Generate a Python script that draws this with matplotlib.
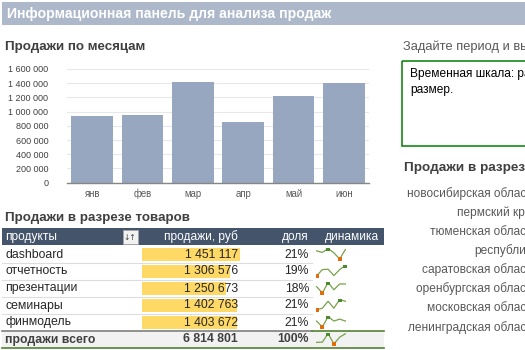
import matplotlib
matplotlib.use("Agg")
import matplotlib.pyplot as plt
from matplotlib.patches import Rectangle
from matplotlib.ticker import FuncFormatter

plt.rcParams['font.family'] = ['Liberation Sans', 'DejaVu Sans']

W, H = 525, 350

months = ["янв", "фев", "мар", "апр", "май", "июн"]
month_sales = [941000, 955000, 1419000, 857000, 1223000, 1408000]

products = ["dashboard", "отчетность", "презентации", "семинары", "финмодель"]
product_sales = [1451117, 1306576, 1250673, 1402763, 1403672]

# monthly sales per product, thousand rub (sparklines)
trend_dashboard = [258, 239, 287, 234, 158, 275]
trend_reports = [164, 232, 236, 168, 232, 275]
trend_slides = [209, 138, 254, 174, 238, 238]
trend_seminars = [173, 194, 274, 194, 294, 274]
trend_finmodel = [233, 165, 285, 233, 255, 233]
product_trends = [trend_dashboard, trend_reports, trend_slides,
                  trend_seminars, trend_finmodel]

regions = ["новосибирская область", "пермский край", "тюменская область",
           "республика", "саратовская область", "оренбургская область",
           "московская область", "ленинградская область"]

DARK = "#404040"
GREEN_BOX = "#008000"
LINE_GREEN = "#548235"


def spaced(v):
    return "{:,.0f}".format(v).replace(",", " ")


def add_ax(x0, y0, x1, y1):
    """axes placed by pixel box (y counted from the top)"""
    return fig.add_axes([x0 / W, 1 - y1 / H, (x1 - x0) / W, (y1 - y0) / H])


fig = plt.figure(figsize=(W / 100, H / 100), dpi=100)

# background layer in pixel units for the panel layout
bg = fig.add_axes([0, 0, 1, 1])
bg.set_xlim(0, W)
bg.set_ylim(H, 0)
bg.axis("off")

bg.add_patch(Rectangle((2, 2), W, 23, color="#ADB9CA", lw=0))
bg.text(7, 14, "Информационная панель для анализа продаж", color="white",
        fontsize=10.1, fontweight="bold", va="center")

bg.text(5, 47, "Продажи по месяцам", color=DARK, fontsize=9.6,
        fontweight="bold", va="center")

# monthly bar chart
ax = add_ax(67, 69, 369, 182.7)
ax.bar(range(len(months)), month_sales, width=0.83, color="#97A7BF", zorder=2)
ax.set_xlim(-0.5, len(months) - 0.5)
ax.set_ylim(0, 1600000)
ax.set_yticks(range(0, 1600001, 200000))
ax.yaxis.set_major_formatter(FuncFormatter(lambda v, p: spaced(v)))
ax.set_xticks(range(len(months)))
ax.set_xticklabels(months)
ax.tick_params(axis="y", length=0, pad=13.5, labelsize=6.5, labelcolor=DARK)
ax.tick_params(axis="x", length=0, pad=4.5, labelsize=6.9, labelcolor="#595959")
ax.grid(axis="y", color="#E8E8E8", lw=0.8, zorder=0)
for side in ["top", "right", "left"]:
    ax.spines[side].set_visible(False)
ax.spines["bottom"].set_color("#868686")
ax.spines["bottom"].set_linewidth(1.0)
ax.set_facecolor("none")

# product table
bg.text(5, 218, "Продажи в разрезе товаров", color=DARK, fontsize=9.6,
        fontweight="bold", va="center")
bg.add_patch(Rectangle((2, 228), 382, 17, color="#44546A", lw=0))
hdr = dict(color="white", fontsize=8.6, va="center")
bg.text(5, 237, "продукты", **hdr)
bg.text(238, 237, "продажи, руб", ha="right", **hdr)
bg.text(309, 237, "доля", ha="right", **hdr)
bg.text(352, 237, "динамика", ha="center", **hdr)
bg.add_patch(Rectangle((122.5, 229.5), 15, 14, facecolor="#F2F2F2",
                       edgecolor="#A6A6A6", lw=0.6))
bg.text(130, 237, "↓↑", color="#404040", fontsize=5.5, ha="center",
        va="center", family="DejaVu Sans")

row_top = 246
row_h = 17
total = sum(product_sales)

for i, name in enumerate(products):
    yc = row_top + row_h * i + row_h / 2
    bg.text(5, yc, name, color="#262626", fontsize=8.8, va="center")
    bg.text(238, yc, spaced(product_sales[i]), color="#262626", fontsize=8.8,
            va="center", ha="right")
    bg.text(309, yc, "{:.0%}".format(product_sales[i] / total),
            color="#262626", fontsize=8.8, va="center", ha="right")
    if i > 0:
        bg.plot([2, 312], [row_top + row_h * i] * 2, color="#DDDDDD", lw=0.8)

# data bars in the sales column
bars = add_ax(142, row_top, 240, row_top + row_h * len(products))
bars.barh(range(len(products)), product_sales, height=0.72, color="#FFD966")
bars.set_xlim(0, max(product_sales))
bars.set_ylim(len(products) - 0.5, -0.5)
bars.axis("off")
bars.set_zorder(0.5)
bg.set_zorder(1)
bg.patch.set_visible(False)

# total row
ty = row_top + row_h * len(products)
bg.add_patch(Rectangle((2, ty), 382, row_h, color="#F2F2F2", lw=0, zorder=0))
bg.plot([2, 312], [ty, ty], color="#7F7F7F", lw=1.2)
bg.plot([312, 384], [ty, ty], color=LINE_GREEN, lw=1.2)
bg.plot([2, 384], [ty + row_h, ty + row_h], color=LINE_GREEN, lw=1.2)
tot = dict(color=DARK, fontsize=8.8, fontweight="bold", va="center")
bg.text(5, ty + row_h / 2, "продажи всего", **tot)
bg.text(238, ty + row_h / 2, spaced(total), ha="right", **tot)
bg.text(309, ty + row_h / 2, "100%", ha="right", **tot)


def sparkline(values, top):
    sp = add_ax(316, top + 2, 346, top + 13.5)
    x = range(len(values))
    sp.plot(x, values, color="#77A34A", lw=0.9)
    hi = values.index(max(values))
    lo = values.index(min(values))
    sp.plot(hi, values[hi], "s", color="#4E8A2E", ms=2.6, mew=0)
    sp.plot(lo, values[lo], "s", color="#E36C0A", ms=2.6, mew=0)
    span = max(values) - min(values)
    sp.set_ylim(min(values) - span * 0.05, max(values) + span * 0.05)
    sp.set_xlim(-0.1, len(values) - 0.9)
    sp.axis("off")
    sp.set_zorder(2)


for i, trend in enumerate(product_trends):
    sparkline(trend, row_top + row_h * i)
sparkline(month_sales, ty)

# right column: timeline placeholder and regional chart
bg.text(403, 47, "Задайте период и выберите регион", color="#595959",
        fontsize=9.3, va="center")
bg.add_patch(Rectangle((401.5, 61), 200, 85, facecolor="none",
                       edgecolor=GREEN_BOX, lw=1.1))
bg.text(410, 73.5, "Временная шкала: работает в Excel 2013 или более поздней "
        "версии. Не перемещайте и не изменяйте", color="black",
        fontsize=8.6, va="center")
bg.text(410, 89.5, "размер.", color="black", fontsize=8.6, va="center")

bg.text(403.5, 168, "Продажи в разрезе регионов", color=DARK, fontsize=9.7,
        fontweight="bold", va="center")
for i, reg in enumerate(regions):
    bg.text(538, 193.5 + 19.1 * i, reg, color="#595959", fontsize=8.6,
            va="center", ha="right")

fig.savefig("out.png", dpi=100)
